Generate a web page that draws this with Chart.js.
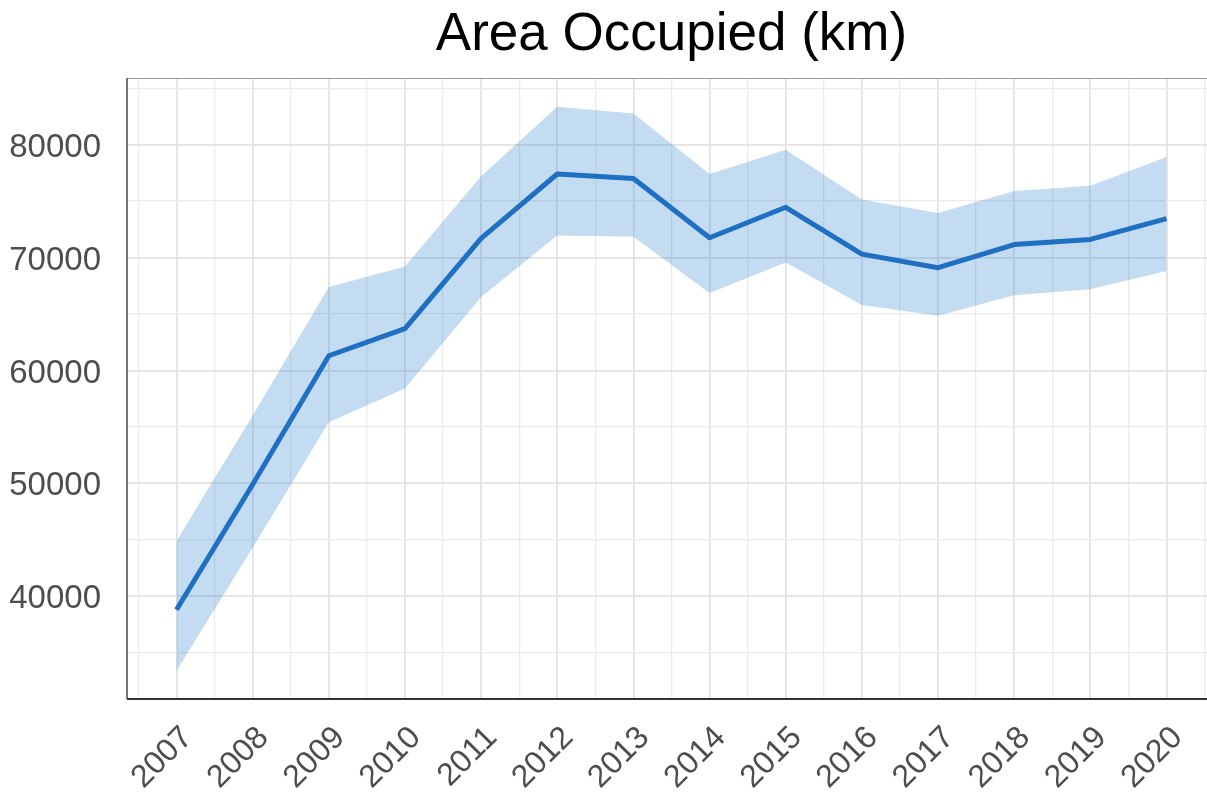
<!DOCTYPE html>
<html>
<head>
<meta charset="utf-8">
<title>Area Occupied (km)</title>
<script src="https://cdn.jsdelivr.net/npm/chart.js@4.4.1/dist/chart.umd.min.js"></script>
<style>
    html, body { margin: 0; padding: 0; background: #fff; overflow: hidden; }
    #wrap { position: relative; width: 1216px; height: 799px; }
</style>
</head>
<body>
<div id="wrap"><canvas id="chart"></canvas></div>
<script>
// Values.
const years = [2007, 2008, 2009, 2010, 2011, 2012, 2013, 2014, 2015, 2016, 2017, 2018, 2019, 2020];
const areaMean = [38800, 49900, 61300, 63700, 71700, 77400, 77000, 71750, 74450, 70300, 69100, 71150, 71600, 73450];
const areaUpper = [44900, 56000, 67400, 69200, 77200, 83350, 82750, 77400, 79550, 75150, 73950, 75900, 76350, 78900];
const areaLower = [33400, 44300, 55400, 58400, 66500, 71950, 71850, 66850, 69550, 65800, 64850, 66650, 67200, 68800];
const yMajorTicks = [40000, 50000, 60000, 70000, 80000];
const TITLE = 'Area Occupied (km)';

const LINE_COLOUR = '#1f6fc2';
const BAND_COLOUR = 'rgba(44,128,210,0.28)';
const TICK_COLOUR = '#4d4d4d';
const FONT = '"Liberation Sans", Arial, sans-serif';

function pts(vals) {
    return years.map((y, i) => ({ x: y, y: vals[i] }));
}

// Labelled ticks plus a minor tick half way between each pair (and at the ends).
function withMinors(major, lo, hi) {
    const half = (major[1] - major[0]) / 2;
    const out = [];
    major.forEach((v, i) => {
        if (i === 0 && v - half >= lo) out.push({ value: v - half });
        out.push({ value: v });
        if (v + half <= hi) out.push({ value: v + half });
    });
    return out;
}

// Title centred over the panel, plus the panel border lines.
const panelDecor = {
    id: 'panelDecor',
    afterDraw(chart) {
        const { ctx, chartArea: a } = chart;
        ctx.save();
        ctx.fillStyle = '#000';
        ctx.font = '53px ' + FONT;
        ctx.textAlign = 'center';
        ctx.textBaseline = 'alphabetic';
        ctx.fillText(TITLE, (a.left + a.right) / 2, 50);

        ctx.lineWidth = 1.2;
        ctx.strokeStyle = '#9a9a9a';
        ctx.beginPath(); ctx.moveTo(a.left, a.top + 0.5); ctx.lineTo(a.right, a.top + 0.5); ctx.stroke();
        ctx.lineWidth = 1.6;
        ctx.strokeStyle = '#555';
        ctx.beginPath(); ctx.moveTo(a.left, a.top); ctx.lineTo(a.left, a.bottom); ctx.stroke();
        ctx.lineWidth = 2;
        ctx.strokeStyle = '#333';
        ctx.beginPath(); ctx.moveTo(a.left, a.bottom); ctx.lineTo(a.right, a.bottom); ctx.stroke();
        ctx.restore();
    }
};

const X_MIN = years[0] - 0.65, X_MAX = years[years.length - 1] + 0.65;
const Y_MIN = 30900, Y_MAX = 85900;

new Chart(document.getElementById('chart'), {
    type: 'line',
    data: {
        datasets: [
            {
                label: 'Upper',
                data: pts(areaUpper),
                borderWidth: 0,
                pointRadius: 0,
                backgroundColor: BAND_COLOUR,
                fill: '+1',
                order: 2,
            },
            {
                label: 'Lower',
                data: pts(areaLower),
                borderWidth: 0,
                pointRadius: 0,
                fill: false,
                order: 3,
            },
            {
                label: 'Area occupied',
                data: pts(areaMean),
                borderColor: LINE_COLOUR,
                borderWidth: 5,
                pointRadius: 0,
                fill: false,
                borderJoinStyle: 'round',
                order: 0,
            },
        ],
    },
    options: {
        responsive: true,
        maintainAspectRatio: false,
        animation: false,
        layout: { padding: { top: 78 } },
        plugins: {
            legend: { display: false },
            tooltip: { enabled: false },
            title: { display: false },
        },
        scales: {
            x: {
                type: 'linear',
                min: X_MIN,
                max: X_MAX,
                afterBuildTicks: s => { s.ticks = withMinors(years, X_MIN, X_MAX); },
                afterFit: s => { s.height = 100; s.paddingLeft = 0; s.paddingRight = 0; },
                grid: {
                    drawTicks: false,
                    color: c => years.includes(c.tick.value) ? '#e2e2e2' : '#ebebeb',
                    lineWidth: c => years.includes(c.tick.value) ? 1.8 : 1.3,
                },
                border: { display: false },
                ticks: {
                    autoSkip: false,
                    maxRotation: 45,
                    minRotation: 45,
                    padding: 20,
                    labelOffset: 11,
                    color: TICK_COLOUR,
                    font: { family: FONT, size: 32 },
                    callback: v => years.includes(v) ? String(v) : '',
                },
            },
            y: {
                min: Y_MIN,
                max: Y_MAX,
                afterBuildTicks: s => { s.ticks = withMinors(yMajorTicks, Y_MIN, Y_MAX); },
                afterFit: s => { s.width = 127; },
                grid: {
                    drawTicks: false,
                    color: c => yMajorTicks.includes(c.tick.value) ? '#e2e2e2' : '#ebebeb',
                    lineWidth: c => yMajorTicks.includes(c.tick.value) ? 1.8 : 1.3,
                },
                border: { display: false },
                ticks: {
                    padding: 26,
                    labelOffset: 3,
                    color: TICK_COLOUR,
                    font: { family: FONT, size: 33 },
                    callback: v => yMajorTicks.includes(v) ? String(v) : '',
                },
            },
        },
    },
    plugins: [panelDecor],
});
</script>
</body>
</html>
